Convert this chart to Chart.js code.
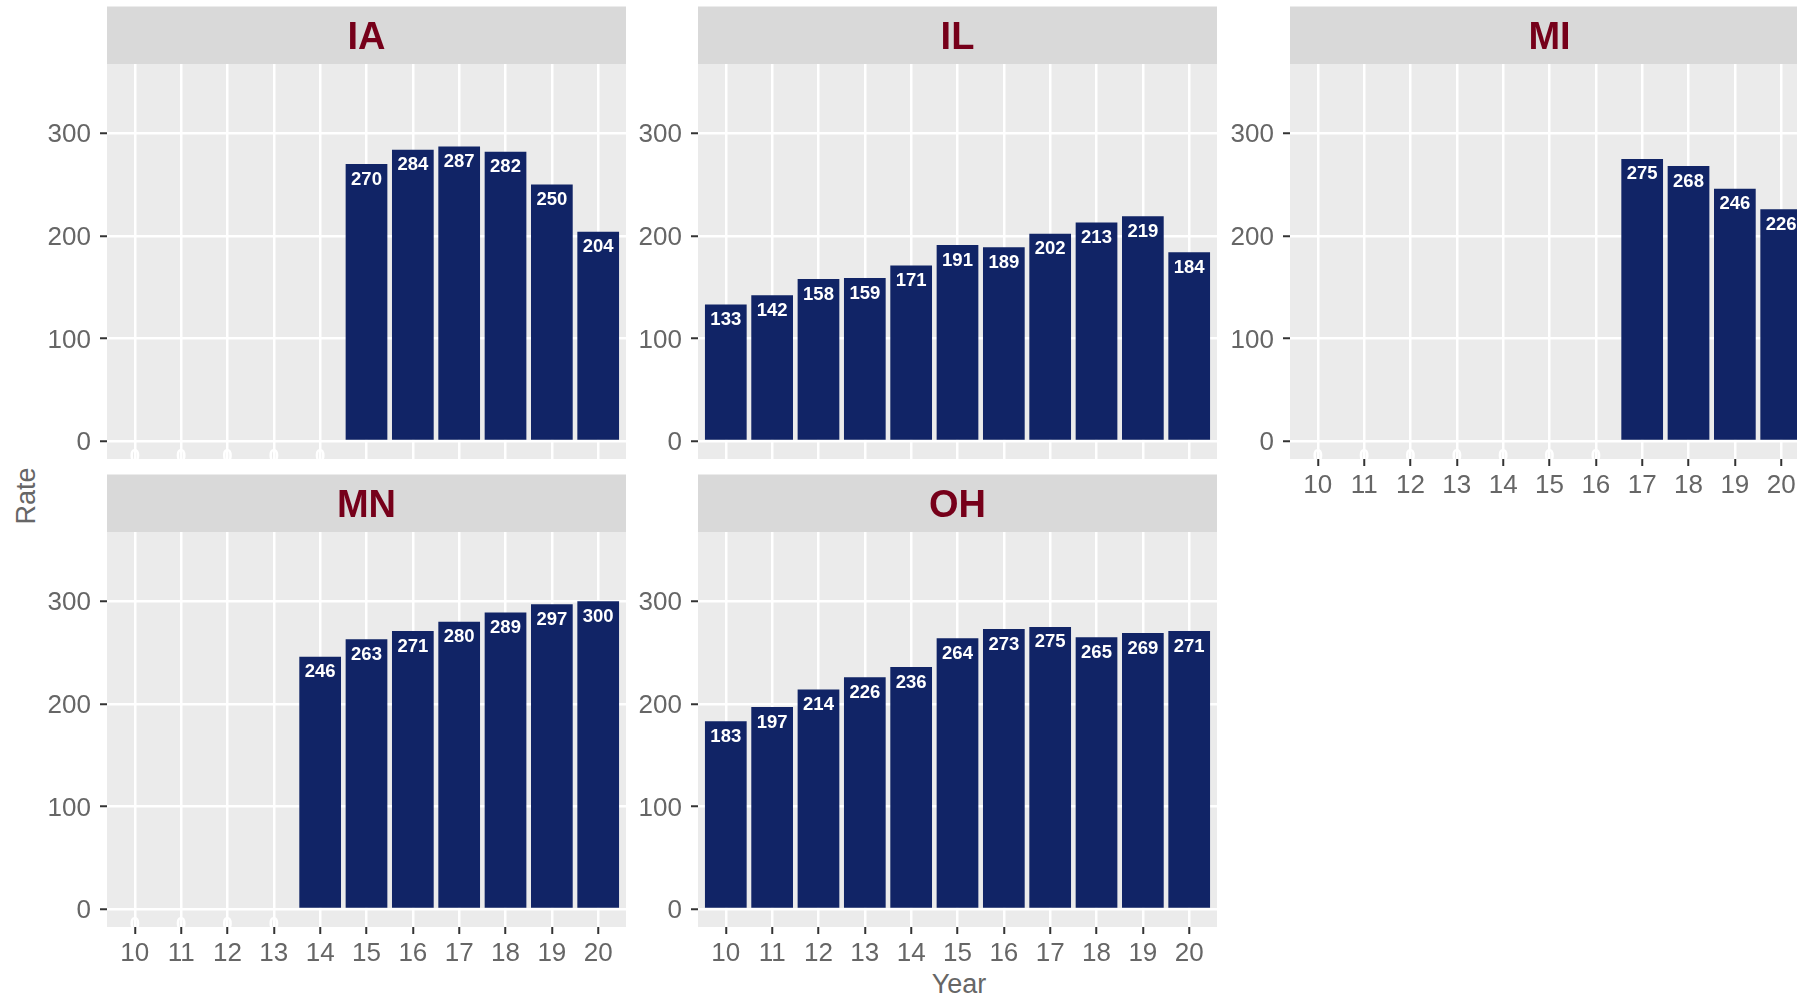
<!DOCTYPE html>
<html>
<head>
<meta charset="utf-8">
<script src="https://cdn.jsdelivr.net/npm/chart.js@4.4.1/dist/chart.umd.min.js"></script>
<style>
  html, body { margin: 0; padding: 0; background: #fff; width: 1797px; height: 997px; overflow: hidden; }
  canvas { position: absolute; }
  .axis-title { position: absolute; font: 27px "Liberation Sans", Arial, sans-serif; line-height: 27px; color: #666; white-space: nowrap; }
  #rate { left: 26px; top: 496px; transform: translate(-50%, -50%) rotate(-90deg); }
  #year { left: 959px; top: 971px; transform: translateX(-50%); }
</style>
</head>
<body>
<div class="axis-title" id="rate">Rate</div>
<div class="axis-title" id="year">Year</div>
<script>
// Rate by state and year (facet per state)
const years = ['10', '11', '12', '13', '14', '15', '16', '17', '18', '19', '20'];
const yTicks = [0, 100, 200, 300];

const IA = [0, 0, 0, 0, 0, 270, 284, 287, 282, 250, 204];
const IL = [133, 142, 158, 159, 171, 191, 189, 202, 213, 219, 184];
const MI = [0, 0, 0, 0, 0, 0, 0, 275, 268, 246, 226];
const MN = [0, 0, 0, 0, 246, 263, 271, 280, 289, 297, 300];
const OH = [183, 197, 214, 226, 236, 264, 273, 275, 265, 269, 271];

const BAR = '#112466';
const STRIP_H = 58, AXIS_W = 100, AXIS_H = 60, PANEL_W = 519, PANEL_H = 395;
const FONT = '"Liberation Sans", Arial, sans-serif';
Chart.defaults.font.family = FONT;

// panel grid (left/top = plot area corner)
const panels = [
  { name: 'MN', values: MN, left: 107, top: 532, showX: true },
  { name: 'OH', values: OH, left: 698, top: 532, showX: true },
  { name: 'IA', values: IA, left: 107, top: 64, showX: false },
  { name: 'IL', values: IL, left: 698, top: 64, showX: false },
  { name: 'MI', values: MI, left: 1290, top: 64, showX: true }
];

// grey panel, strip header and value labels inside bars
const facet = {
  id: 'facet',
  beforeDraw(chart, args, opts) {
    const { ctx, chartArea: a } = chart;
    ctx.save();
    ctx.fillStyle = '#EBEBEB';
    ctx.fillRect(a.left, a.top, a.width, a.height);
    ctx.fillStyle = '#D9D9D9';
    ctx.fillRect(a.left, a.top - 57.5, a.width, 57.5);
    ctx.fillStyle = '#76001A';
    ctx.font = 'bold 38px ' + FONT;
    ctx.textAlign = 'center';
    ctx.textBaseline = 'middle';
    ctx.fillText(opts.title, (a.left + a.right) / 2, a.top - 25);
    ctx.restore();
  },
  afterDatasetsDraw(chart) {
    const { ctx, chartArea: a } = chart;
    const meta = chart.getDatasetMeta(0);
    const pts = chart.data.datasets[0].data;
    ctx.save();
    ctx.beginPath();
    ctx.rect(a.left, a.top, a.width, a.height);
    ctx.clip();
    ctx.fillStyle = '#fff';
    ctx.font = 'bold 18.5px ' + FONT;
    ctx.textAlign = 'center';
    ctx.textBaseline = 'middle';
    meta.data.forEach((bar, i) => ctx.fillText(String(pts[i].y), bar.x, bar.y + 15.5));
    ctx.restore();
  }
};

panels.forEach(p => {
  const canvas = document.createElement('canvas');
  canvas.width = AXIS_W + PANEL_W;
  canvas.height = STRIP_H + PANEL_H + AXIS_H;
  canvas.style.left = (p.left - AXIS_W) + 'px';
  canvas.style.top = (p.top - STRIP_H) + 'px';
  document.body.appendChild(canvas);

  new Chart(canvas, {
    type: 'bar',
    data: {
      datasets: [{
        data: years.map((y, i) => ({ x: Number(y), y: p.values[i] })),
        backgroundColor: BAR,
        borderWidth: 0,
        categoryPercentage: 1,
        barPercentage: 0.9
      }]
    },
    options: {
      responsive: false,
      animation: false,
      events: [],
      layout: { padding: { top: STRIP_H, left: 0, right: 0, bottom: 0 } },
      plugins: {
        legend: { display: false },
        tooltip: { enabled: false },
        facet: { title: p.name }
      },
      scales: {
        x: {
          type: 'linear',
          min: 9.4,
          max: 20.6,
          offset: false,
          afterBuildTicks: s => { s.ticks = years.map(v => ({ value: Number(v) })); },
          afterFit: s => { s.height = AXIS_H; },
          grid: { color: '#fff', lineWidth: 2.5, offset: false, drawTicks: p.showX, tickColor: '#333', tickLength: 7, tickWidth: 2 },
          border: { display: false },
          ticks: { display: p.showX, padding: 4, color: '#666', font: { size: 26 }, maxRotation: 0, autoSkip: false, callback: (v, i) => years[i] }
        },
        y: {
          min: -17.5,
          max: 367.5,
          afterBuildTicks: s => { s.ticks = yTicks.map(v => ({ value: v })); },
          afterFit: s => { s.width = AXIS_W; },
          grid: { color: '#fff', lineWidth: 2.5, tickColor: '#333', tickLength: 7, tickWidth: 2 },
          border: { display: false },
          ticks: { padding: 9, labelOffset: 2, color: '#666', font: { size: 26 }, callback: v => String(v) }
        }
      }
    },
    plugins: [facet]
  });
});
</script>
</body>
</html>
